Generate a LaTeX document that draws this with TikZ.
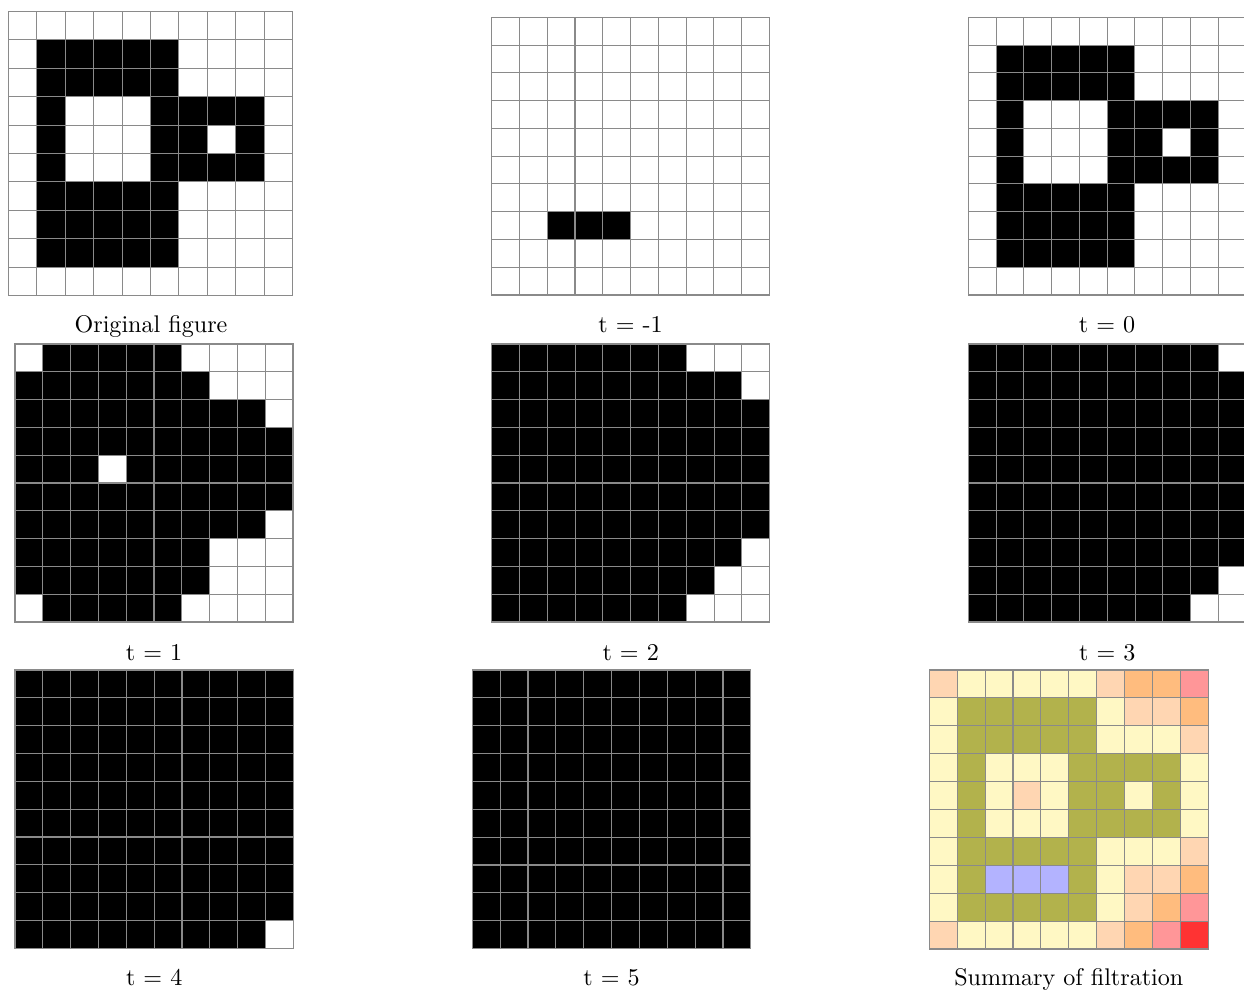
\documentclass[tikz,border=0pt]{standalone}
\usepackage{xcolor}
\definecolor{gridgray}{HTML}{8A8A8A}
\definecolor{cneg}{HTML}{B3B3FF}
\definecolor{czero}{HTML}{B2B24C}
\definecolor{cone}{HTML}{FFF8C4}
\definecolor{ctwo}{HTML}{FFD6B2}
\definecolor{cthree}{HTML}{FFBC7E}
\definecolor{cfour}{HTML}{FF9698}
\definecolor{cfive}{HTML}{FF3333}
\def\summ{{2,1,1,1,1,1,2,3,3,4},{1,0,0,0,0,0,1,2,2,3},{1,0,0,0,0,0,1,1,1,2},{1,0,1,1,1,0,0,0,0,1},{1,0,1,2,1,0,0,1,0,1},{1,0,1,1,1,0,0,0,0,1},{1,0,0,0,0,0,1,1,1,2},{1,0,-1,-1,-1,0,1,2,2,3},{1,0,0,0,0,0,1,2,3,4},{2,1,1,1,1,1,2,3,4,5}}
\tikzset{
  cellline/.style={draw=gridgray, line width=0.45pt, line cap=rect},
  captext/.style={anchor=base, inner sep=0pt, font=\fontsize{10}{12}\selectfont}
}
% grid lines: #1 x0, #2 y0, #3 size
\newcommand\drawgridlines[3]{%
  \foreach \k in {0,...,10} {
    \draw[cellline] ({#1+\k*#3/10},{#2}) -- ({#1+\k*#3/10},{#2+#3});
    \draw[cellline] ({#1},{#2+\k*#3/10}) -- ({#1+#3},{#2+\k*#3/10});
  }
}
% #1 x0, #2 y0, #3 size, #4 threshold
\newcommand\drawpanel[4]{%
  \foreach \row [count=\r from 0] in \summ {
    \foreach \v [count=\c from 0] in \row {
      \ifnum\v>#4\relax\def\fc{white}\else\def\fc{black}\fi
      \fill[\fc] ({#1+\c*#3/10},{#2+\r*#3/10}) rectangle +({#3/10+0.3},{#3/10+0.3});
    }
  }
  \drawgridlines{#1}{#2}{#3}
}
\newcommand\drawsummary[3]{%
  \foreach \row [count=\r from 0] in \summ {
    \foreach \v [count=\c from 0] in \row {
      \edef\fc{\ifcase\numexpr\v+1\relax cneg\or czero\or cone\or ctwo\or cthree\or cfour\or cfive\fi}
      \fill[\fc] ({#1+\c*#3/10},{#2+\r*#3/10}) rectangle +({#3/10+0.3},{#3/10+0.3});
    }
  }
  \drawgridlines{#1}{#2}{#3}
}
\begin{document}
\begin{tikzpicture}[x=0.415pt, y=-0.415pt]
\useasboundingbox (0,0) rectangle (1244,989);
\fill[white] (0,0) rectangle (1244,989);
% row 1
\drawpanel{8.5}{11.5}{284}{0}
\node[captext] (capA) at (151,332) {Original figure};
\drawpanel{491.7}{17.3}{277.7}{-1}
\node[captext] (capB) at (630.5,332) {t = -1};
\drawpanel{968.3}{17.3}{277.7}{0}
\node[captext] (capC) at (1107,332) {t = 0};
% row 2
\drawpanel{15}{344}{278}{1}
\node[captext] (capD) at (154,660) {t = 1};
\drawpanel{491.7}{344}{278}{2}
\node[captext] (capE) at (630.7,660) {t = 2};
\drawpanel{968.3}{344}{278}{3}
\node[captext] (capF) at (1107.3,660) {t = 3};
% row 3
\drawpanel{15}{670}{278.3}{4}
\node[captext] (capG) at (154.2,985) {t = 4};
\drawpanel{472.3}{670}{278.5}{5}
\node[captext] (capH) at (611.5,985) {t = 5};
\drawsummary{929.3}{670}{279}
\node[captext] (capI) at (1068.8,985) {Summary of filtration};
\end{tikzpicture}
\end{document}
